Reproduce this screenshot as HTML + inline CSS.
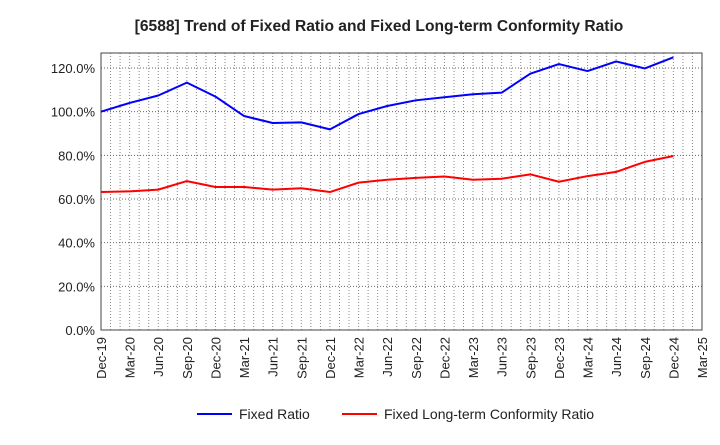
<!DOCTYPE html>
<html><head><meta charset="utf-8"><style>
body{margin:0;background:#fff;font-family:"Liberation Sans",sans-serif;}
svg text{font-family:"Liberation Sans",sans-serif;}
</style></head><body>
<svg id="chart" width="720" height="440" xmlns="http://www.w3.org/2000/svg">
<text x="379" y="31" text-anchor="middle" font-size="15.6" font-weight="bold" fill="#222">[6588]  Trend of Fixed Ratio and Fixed Long-term Conformity Ratio</text>
<g id="grid"></g><g id="axes"></g><g id="series"></g>
<g>
<line x1="197" y1="414" x2="232" y2="414" stroke="#0000ff" stroke-width="2"/>
<text x="239" y="419" font-size="14" fill="#222">Fixed Ratio</text>
<line x1="342" y1="414" x2="377" y2="414" stroke="#ff0000" stroke-width="2"/>
<text x="384" y="419" font-size="14" fill="#222">Fixed Long-term Conformity Ratio</text>
</g>
</svg>
<script>
const xLabels=["Dec-19","Mar-20","Jun-20","Sep-20","Dec-20","Mar-21","Jun-21","Sep-21","Dec-21","Mar-22","Jun-22","Sep-22","Dec-22","Mar-23","Jun-23","Sep-23","Dec-23","Mar-24","Jun-24","Sep-24","Dec-24","Mar-25"];
const yTicks=[0,20,40,60,80,100,120];
const fixedRatio=[100.0,104.0,107.4,113.3,106.9,98.0,94.8,95.1,91.9,98.9,102.6,105.2,106.6,108.0,108.7,117.4,121.8,118.6,123.0,119.8,124.9];
const conformityRatio=[63.2,63.5,64.3,68.2,65.5,65.5,64.3,64.9,63.2,67.5,68.8,69.7,70.3,68.8,69.3,71.3,67.9,70.5,72.4,77.0,79.7];
const L=101,R=702,T=53,B=330;
const NS="http://www.w3.org/2000/svg";
const x=i=>L+(R-L)*i/(xLabels.length-1);
const y=v=>B-(B-68)*v/120;
function mk(t,a,p){const e=document.createElementNS(NS,t);for(const k in a)e.setAttribute(k,a[k]);p.appendChild(e);return e;}
const grid=document.getElementById('grid'),axes=document.getElementById('axes'),series=document.getElementById('series');
const months=(xLabels.length-1)*3;
for(let m=1;m<months;m++){const xx=L+(R-L)*m/months;
const l=mk('line',{x1:xx,x2:xx,y1:T,y2:B,stroke:'#888','stroke-dasharray':'1,2','stroke-width':1},grid);

}
yTicks.forEach(v=>{if(v>0){const l=mk('line',{x1:L,x2:R,y1:y(v),y2:y(v),stroke:'#666','stroke-dasharray':'1,2','stroke-width':1},grid);

}
const t=mk('text',{x:L-6,y:y(v)+5,'text-anchor':'end','font-size':13,fill:'#222'},axes);t.textContent=v.toFixed(1)+'%';

});
const box=mk('rect',{x:L,y:T,width:R-L,height:B-T,fill:'none',stroke:'#444','stroke-width':1},axes);


xLabels.forEach((s,i)=>{const t=mk('text',{x:0,y:0,'text-anchor':'end','font-size':13,fill:'#222',transform:`translate(${x(i)+5},${B+7}) rotate(-90)`},axes);t.textContent=s;

});
function line(d,c,n){const p=mk('polyline',{points:d.map((v,i)=>x(i)+','+y(v)).join(' '),fill:'none',stroke:c,'stroke-width':2,'stroke-linejoin':'round'},series);

}
line(fixedRatio,'#0000ff','fixed-ratio-line');
line(conformityRatio,'#ff0000','conformity-ratio-line');
</script>
</body></html>
